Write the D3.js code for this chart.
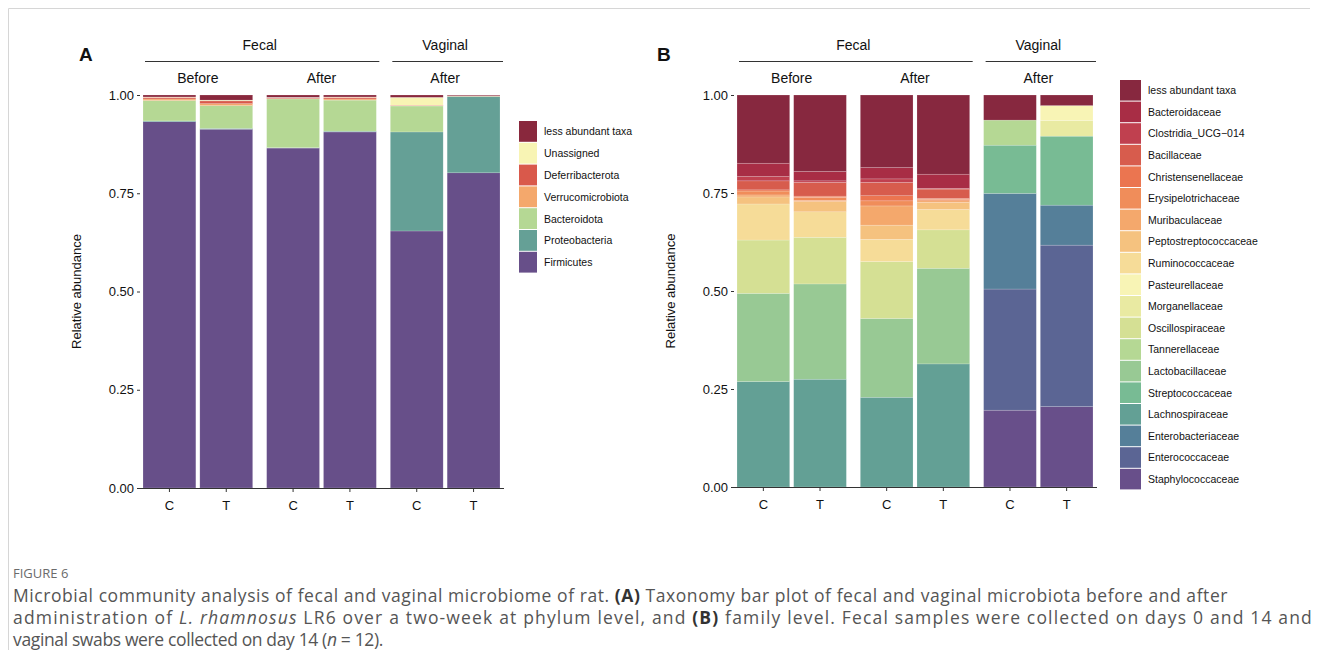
<!DOCTYPE html>
<html>
<head>
<meta charset="utf-8">
<script src="https://cdn.jsdelivr.net/npm/d3@7"></script>
<style>
  body { margin: 0; background: #fff; }
  svg text { font-family: "Liberation Sans", Arial, sans-serif; }
  .caption text { font-family: "Open Sans", "Noto Sans", sans-serif; }
</style>
</head>
<body>
<div id="chart"></div>
<script>
// ---- shared layout labels ----
const facetIds = ['Fecal-Before', 'Fecal-After', 'Vaginal-After'];
const periodLabels = ['Before', 'After', 'After'];
const siteLabels = [{ name: 'Fecal', facets: [0, 1] }, { name: 'Vaginal', facets: [2] }];
const sampleLabels = ['C', 'T'];
const yTicks = [0, 0.25, 0.5, 0.75, 1];

// ---- panel A: phylum level (bottom to top of stack) ----
const phylumTaxa = ['Firmicutes', 'Proteobacteria', 'Bacteroidota', 'Verrucomicrobiota',
  'Deferribacterota', 'Unassigned', 'less abundant taxa'];
const phylumColors = ['#674f89', '#65a096', '#b5d894', '#f4a86c', '#d9594b', '#f8f4b4', '#89283d'];
const phylumFecalBeforeC  = [0.932, 0.002, 0.052, 0.004, 0.004, 0.001, 0.005];
const phylumFecalBeforeT  = [0.913, 0.002, 0.058, 0.005, 0.007, 0.002, 0.013];
const phylumFecalAfterC   = [0.865, 0.001, 0.124, 0.001, 0.002, 0.001, 0.006];
const phylumFecalAfterT   = [0.906, 0.002, 0.079, 0.003, 0.004, 0.001, 0.005];
const phylumVaginalAfterC = [0.654, 0.252, 0.066, 0.001, 0.001, 0.020, 0.006];
const phylumVaginalAfterT = [0.802, 0.194, 0.001, 0.000, 0.001, 0.000, 0.002];

// ---- panel B: family level (bottom to top of stack) ----
const familyTaxa = ['Staphylococcaceae', 'Enterococcaceae', 'Enterobacteriaceae', 'Lachnospiraceae',
  'Streptococcaceae', 'Lactobacillaceae', 'Tannerellaceae', 'Oscillospiraceae', 'Morganellaceae',
  'Pasteurellaceae', 'Ruminococcaceae', 'Peptostreptococcaceae', 'Muribaculaceae',
  'Erysipelotrichaceae', 'Christensenellaceae', 'Bacillaceae', 'Clostridia_UCG\u2212014',
  'Bacteroidaceae', 'less abundant taxa'];
const familyColors = ['#684f8a', '#5b6594', '#557f99', '#63a095', '#78bb94', '#98c994', '#b5d894',
  '#d5e094', '#e9eaa2', '#f8f4b5', '#f6dc98', '#f5c27f', '#f4a86c', '#f08d5a', '#eb7550',
  '#d75c4d', '#c0404f', '#a82d45', '#87283f'];
const familyFecalBeforeC  = [0, 0, 0, 0.269, 0, 0.225, 0, 0.136, 0, 0, 0.092, 0.018, 0.005, 0.010, 0.003, 0.023, 0.011, 0.034, 0.174];
const familyFecalBeforeT  = [0, 0, 0, 0.275, 0, 0.243, 0, 0.119, 0, 0, 0.065, 0.026, 0.003, 0.008, 0.003, 0.035, 0.004, 0.024, 0.195];
const familyFecalAfterC   = [0, 0, 0, 0.229, 0, 0.201, 0, 0.145, 0, 0, 0.057, 0.036, 0.049, 0.013, 0.013, 0.034, 0.009, 0.029, 0.185];
const familyFecalAfterT   = [0, 0, 0, 0.314, 0, 0.244, 0, 0.098, 0, 0, 0.052, 0.018, 0.004, 0.004, 0.002, 0.024, 0.002, 0.036, 0.202];
const familyVaginalAfterC = [0.196, 0.309, 0.244, 0, 0.123, 0, 0.064, 0, 0, 0, 0, 0, 0, 0, 0, 0, 0, 0, 0.064];
const familyVaginalAfterT = [0.205, 0.412, 0.102, 0, 0.176, 0, 0, 0, 0.040, 0.038, 0, 0, 0, 0, 0, 0, 0, 0, 0.027];

const width = 1331, height = 650;

const svg = d3.select('#chart')
  .append('svg')
  .attr('width', width)
  .attr('height', height);

// figure frame (top and left rule)
svg.append('line').attr('x1', 8.5).attr('x2', 1310).attr('y1', 8.5).attr('y2', 8.5)
  .attr('stroke', '#d6d6d6');
svg.append('line').attr('x1', 8.5).attr('x2', 8.5).attr('y1', 8.5).attr('y2', 650)
  .attr('stroke', '#d6d6d6');

function buildRows(barArrays, taxa) {
  const rows = [];
  facetIds.forEach((f, fi) => {
    sampleLabels.forEach((s, si) => {
      const vals = barArrays[fi * 2 + si];
      const row = { facet: f, sample: s };
      taxa.forEach((t, ti) => { row[t] = vals[ti]; });
      rows.push(row);
    });
  });
  return rows;
}

/**
 * Draw one stacked-bar panel with nested facet strips and legend
 */
function drawPanel(cfg) {
  const g = svg.append('g');

  const y = d3.scaleLinear().domain([0, 1]).range([cfg.bottom, cfg.top]);
  const fx = d3.scaleBand().domain(facetIds).range([cfg.left, cfg.right])
    .paddingInner(0.113).paddingOuter(0);
  const sx = d3.scaleBand().domain(sampleLabels).range([0, fx.bandwidth()])
    .paddingInner(0.07).paddingOuter(0);

  const rows = buildRows(cfg.bars, cfg.taxa);
  const series = d3.stack().keys(cfg.taxa)(rows);
  const color = d3.scaleOrdinal().domain(cfg.taxa).range(cfg.colors);

  // bars
  g.append('g').selectAll('g')
    .data(series)
    .join('g')
    .attr('fill', d => color(d.key))
    .selectAll('rect')
    .data(d => d.filter(p => p[1] - p[0] > 0))
    .join('rect')
    .attr('x', d => fx(d.data.facet) + sx(d.data.sample))
    .attr('width', sx.bandwidth())
    .attr('y', d => y(d[1]))
    .attr('height', d => y(d[0]) - y(d[1]))
    .attr('stroke', '#ffffff')
    .attr('stroke-opacity', 0.35)
    .attr('stroke-width', 0.5);

  // y axis (ticks only, no line)
  const yAxis = g.append('g')
    .attr('transform', `translate(${cfg.left - 3},0)`)
    .call(d3.axisLeft(y).tickValues(yTicks).tickFormat(d3.format('.2f')).tickSize(3).tickPadding(3));
  yAxis.select('.domain').remove();
  yAxis.selectAll('.tick line').attr('stroke', '#333');
  yAxis.selectAll('.tick text').attr('fill', '#111').style('font-size', '13px');

  // x axis line with ticks per bar
  g.append('line')
    .attr('x1', cfg.left - 4).attr('x2', cfg.right + 4)
    .attr('y1', cfg.bottom + 0.5).attr('y2', cfg.bottom + 0.5)
    .attr('stroke', '#333').attr('stroke-width', 1);
  const xTicks = g.append('g');
  facetIds.forEach(f => {
    sampleLabels.forEach(s => {
      const cx = fx(f) + sx(s) + sx.bandwidth() / 2;
      xTicks.append('line')
        .attr('x1', cx).attr('x2', cx)
        .attr('y1', cfg.bottom).attr('y2', cfg.bottom + 4)
        .attr('stroke', '#333');
      xTicks.append('text')
        .attr('x', cx).attr('y', cfg.bottom + 22)
        .attr('text-anchor', 'middle')
        .style('font-size', '13px').attr('fill', '#111')
        .text(s);
    });
  });

  // facet strips
  facetIds.forEach((f, i) => {
    g.append('text')
      .attr('x', fx(f) + fx.bandwidth() / 2)
      .attr('y', cfg.top - 12)
      .attr('text-anchor', 'middle')
      .style('font-size', '14px').attr('fill', '#111')
      .text(periodLabels[i]);
  });
  siteLabels.forEach(site => {
    const x0 = fx(facetIds[site.facets[0]]);
    const x1 = fx(facetIds[site.facets[site.facets.length - 1]]) + fx.bandwidth();
    g.append('line')
      .attr('x1', x0 + 2).attr('x2', x1 + 3)
      .attr('y1', cfg.top - 33.5).attr('y2', cfg.top - 33.5)
      .attr('stroke', '#333').attr('stroke-width', 1);
    g.append('text')
      .attr('x', (x0 + x1) / 2)
      .attr('y', cfg.top - 45)
      .attr('text-anchor', 'middle')
      .style('font-size', '14px').attr('fill', '#111')
      .text(site.name);
  });

  // y title
  g.append('text')
    .attr('transform', `translate(${cfg.yTitleX},${(cfg.top + cfg.bottom) / 2}) rotate(-90)`)
    .attr('text-anchor', 'middle')
    .style('font-size', '13px').attr('fill', '#111')
    .text('Relative abundance');

  // panel letter
  g.append('text')
    .attr('x', cfg.letterX).attr('y', 61)
    .style('font-size', '19px').style('font-weight', 'bold').attr('fill', '#111')
    .text(cfg.letter);

  // legend, top entry = last taxon
  const legendTaxa = cfg.taxa.slice().reverse();
  const legend = g.append('g')
    .attr('transform', `translate(${cfg.legendX},${cfg.legendY})`);
  const item = legend.selectAll('g')
    .data(legendTaxa)
    .join('g')
    .attr('transform', (d, i) => `translate(0,${i * cfg.legendStep})`);
  item.append('rect')
    .attr('width', cfg.legendW).attr('height', cfg.legendStep - 1)
    .attr('fill', d => color(d));
  item.append('text')
    .attr('x', cfg.legendW + 7)
    .attr('y', cfg.legendStep / 2 + 3.5)
    .style('font-size', '10.5px').attr('fill', '#111')
    .text(d => d);
}

drawPanel({
  letter: 'A', letterX: 79,
  left: 143, right: 500, top: 95, bottom: 488,
  yTitleX: 81,
  taxa: phylumTaxa, colors: phylumColors,
  bars: [phylumFecalBeforeC, phylumFecalBeforeT, phylumFecalAfterC,
    phylumFecalAfterT, phylumVaginalAfterC, phylumVaginalAfterT],
  legendX: 519, legendY: 121, legendStep: 21.8, legendW: 18
});

drawPanel({
  letter: 'B', letterX: 657,
  left: 737, right: 1093, top: 95, bottom: 487,
  yTitleX: 675,
  taxa: familyTaxa, colors: familyColors,
  bars: [familyFecalBeforeC, familyFecalBeforeT, familyFecalAfterC,
    familyFecalAfterT, familyVaginalAfterC, familyVaginalAfterT],
  legendX: 1120, legendY: 80, legendStep: 21.6, legendW: 21
});

// caption
const cap = svg.append('g').attr('class', 'caption');
cap.append('text')
  .attr('x', 13).attr('y', 578)
  .style('font-size', '13px').attr('fill', '#6b6b6b')
  .text('FIGURE 6');

const captionLines = [
  [['Microbial community analysis of fecal and vaginal microbiome of rat. ', ''], ['(A)', 'b'],
   [' Taxonomy bar plot of fecal and vaginal microbiota before and after', '']],
  [['administration of ', ''], ['L. rhamnosus', 'i'], [' LR6 over a two-week at phylum level, and ', ''],
   ['(B)', 'b'], [' family level. Fecal samples were collected on days 0 and 14 and', '']],
  [['vaginal swabs were collected on day 14 (', ''], ['n', 'i'], [' = 12).', '']]
];
// right edge of each caption line in the reference
const captionLineEnds = [1228, 1313, 383];

captionLines.forEach((parts, i) => {
  const t = cap.append('text')
    .attr('x', 13).attr('y', 602 + i * 22)
    .style('font-size', '17.5px').attr('fill', '#555');
  parts.forEach(([str, style]) => {
    const span = t.append('tspan').text(str);
    if (style === 'b') span.style('font-weight', 'bold').attr('fill', '#333');
    if (style === 'i') span.style('font-style', 'italic');
  });
  const natural = t.node().getComputedTextLength();
  const chars = parts.map(p => p[0]).join('').length;
  const extra = (captionLineEnds[i] - 13 - natural) / chars;
  t.style('letter-spacing', `${extra.toFixed(3)}px`);
});
</script>
</body>
</html>
